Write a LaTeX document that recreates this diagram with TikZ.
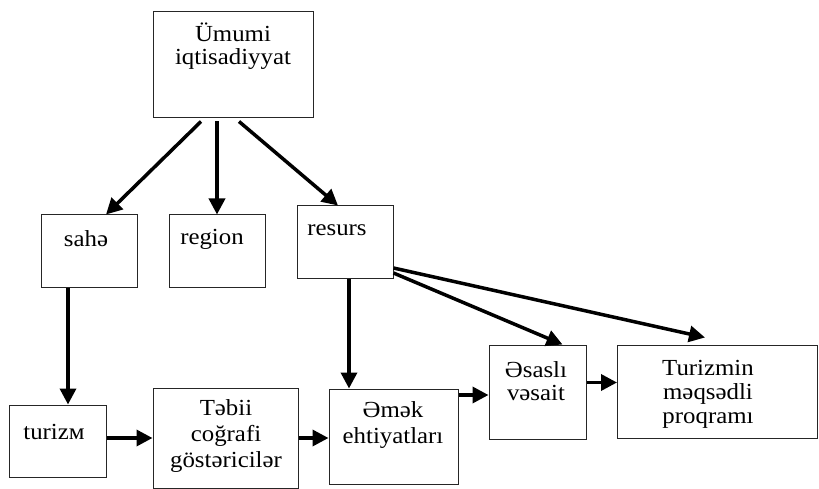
\documentclass[tikz,border=0pt]{standalone}
\usepackage{fontspec}
\setmainfont{Liberation Serif}[FakeStretch=1.08]
\usetikzlibrary{arrows.meta}
\begin{document}
\begin{tikzpicture}[x=1pt,y=-1pt,
  box/.style={draw=black!85, line width=1pt, inner sep=0pt},
  txt/.style={align=center, inner sep=0pt, font=\fontsize{23}{25}\selectfont},
  arr/.style={line width=3.5pt, -{Triangle[length=16pt,width=16pt]}}]
\useasboundingbox[fill=white] (0,0) rectangle (819,489);
% boxes
\node[box, minimum width=160pt, minimum height=106pt] (top) at (233,65) {};
\node[box, minimum width=96pt, minimum height=72pt] (sahe) at (89,251) {};
\node[box, minimum width=96pt, minimum height=72pt] (region) at (217,251) {};
\node[box, minimum width=96pt, minimum height=72pt] (resurs) at (345,242) {};
\node[box, minimum width=97pt, minimum height=72pt] (turizm) at (57.5,441) {};
\node[box, minimum width=145pt, minimum height=100pt] (tebii) at (225.5,438) {};
\node[box, minimum width=129pt, minimum height=95pt] (emek) at (393.5,436.5) {};
\node[box, minimum width=97pt, minimum height=94pt] (esasli) at (537.5,392) {};
\node[box, minimum width=200pt, minimum height=93pt] (turizmin) at (717.5,391.5) {};
% texts
\node[txt, font=\fontsize{23}{23}\selectfont] (topT) at (233,46) {Ümumi\\iqtisadiyyat};
\node[txt] (saheT) at (86,239) {sahə};
\node[txt] (regionT) at (212,239) {region};
\node[txt] (resursT) at (337,230) {resurs};
\node[txt] (turizmT) at (54,432) {turizм};
\node[txt, font=\fontsize{23}{26}\selectfont] (tebiiT) at (226,436) {Təbii\\coğrafi\\göstəricilər};
\node[txt] (emekT) at (393,425) {Əmək\\ehtiyatları};
\node[txt, font=\fontsize{23}{23}\selectfont] (esasliT) at (536,381) {Əsaslı\\vəsait};
\node[txt, font=\fontsize{23}{24}\selectfont] (turizminT) at (708,394) {Turizmin\\məqsədli\\proqramı};
% arrows
\draw[arr] ([shift={(-32,3)}]top.south) -- ([shift={(17,0)}]sahe.north);
\draw[arr] ([shift={(-16,3)}]top.south) -- (region.north);
\draw[arr] ([shift={(6,3)}]top.south) -- ([shift={(-7,0)}]resurs.north);
\draw[arr] ([xshift=-21pt]sahe.south) -- ([xshift=-21pt]sahe.south |- turizm.north);
\draw[arr] ([xshift=4pt]resurs.south) -- ([xshift=4pt]resurs.south |- emek.north);
\draw[arr] ([yshift=-31pt]resurs.east) -- ([xshift=25pt]esasli.north);
\draw[arr] ([yshift=-26pt]resurs.east) -- ([shift={(-12.5,-7)}]turizmin.north);
\draw[arr] ([yshift=3pt]turizm.east) -- ([yshift=3pt]turizm.east -| tebii.west);
\draw[arr] (tebii.east) -- (tebii.east -| emek.west);
\draw[arr] ([yshift=41.5pt]emek.east) -- ([yshift=41.5pt]emek.east -| esasli.west);
\draw[arr] ([yshift=9.5pt]esasli.east) -- ([yshift=9.5pt]esasli.east -| turizmin.west);
\end{tikzpicture}
\end{document}
